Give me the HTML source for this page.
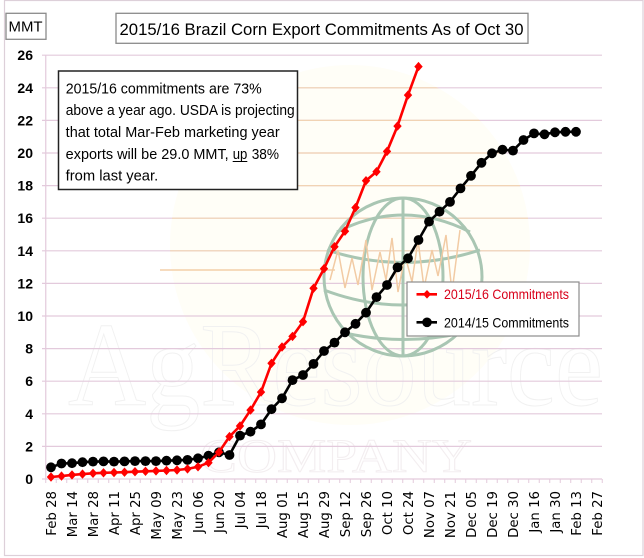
<!DOCTYPE html>
<html><head><meta charset="utf-8"><style>
html,body{margin:0;padding:0;background:#fff;}
svg{display:block;}
</style></head><body>
<svg width="644" height="558" viewBox="0 0 644 558" xmlns="http://www.w3.org/2000/svg">
<defs>
<clipPath id="sun"><circle cx="350" cy="245" r="180"/></clipPath>
<marker id="dia" markerUnits="userSpaceOnUse" markerWidth="12" markerHeight="12" refX="6" refY="6" viewBox="0 0 12 12"><path d="M6,1.3 L10.2,6 L6,10.7 L1.8,6 Z" fill="#ff0000"/></marker>
<marker id="dot" markerUnits="userSpaceOnUse" markerWidth="12" markerHeight="12" refX="6" refY="6" viewBox="0 0 12 12"><circle cx="6" cy="6" r="4.9" fill="#000"/></marker>
</defs>
<rect x="0" y="0" width="644" height="558" fill="#fff"/>
<rect x="4.5" y="0.5" width="638.5" height="555" fill="none" stroke="#ddd0d9" stroke-width="1.2"/>

<!-- watermark sun -->
<circle cx="350" cy="245" r="180" fill="#fffef7"/>
<!-- watermark text -->
<text x="68" y="405" font-family="Liberation Serif, serif" font-size="120" textLength="535" lengthAdjust="spacingAndGlyphs" fill="none" stroke="#f1f1f1" stroke-width="1">AgResource</text>
<text x="200" y="472" font-family="Liberation Serif, serif" font-size="48" textLength="272" lengthAdjust="spacingAndGlyphs" fill="none" stroke="#f3eef0" stroke-width="1">COMPANY</text>

<!-- gridlines -->
<g stroke="#e3cadc" stroke-width="1.2">
<line x1="42" y1="55.2" x2="602" y2="55.2"/>
<line x1="42" y1="87.8" x2="602" y2="87.8"/>
<line x1="42" y1="120.4" x2="602" y2="120.4"/>
<line x1="42" y1="153" x2="602" y2="153"/>
<line x1="42" y1="185.6" x2="602" y2="185.6"/>
<line x1="42" y1="218.2" x2="602" y2="218.2"/>
<line x1="42" y1="250.8" x2="602" y2="250.8"/>
<line x1="42" y1="283.4" x2="602" y2="283.4"/>
<line x1="42" y1="316" x2="602" y2="316"/>
<line x1="42" y1="348.6" x2="602" y2="348.6"/>
<line x1="42" y1="381.2" x2="602" y2="381.2"/>
<line x1="42" y1="413.8" x2="602" y2="413.8"/>
<line x1="42" y1="446.4" x2="602" y2="446.4"/>
<line x1="42" y1="479" x2="602" y2="479"/>
<line x1="45.75" y1="55" x2="45.75" y2="479"/>
</g>
<g stroke="#f1d3b4" stroke-width="1.2" clip-path="url(#sun)">
<line x1="42" y1="87.8" x2="602" y2="87.8"/>
<line x1="42" y1="120.4" x2="602" y2="120.4"/>
<line x1="42" y1="153" x2="602" y2="153"/>
<line x1="42" y1="185.6" x2="602" y2="185.6"/>
<line x1="42" y1="218.2" x2="602" y2="218.2"/>
<line x1="42" y1="250.8" x2="602" y2="250.8"/>
</g>
<!-- x ticks -->
<g stroke="#e3cadc" stroke-width="1">
<path d="M45.75,479v4M56.25,479v4M66.75,479v4M77.25,479v4M87.75,479v4M98.25,479v4M108.75,479v4M119.25,479v4M129.75,479v4M140.25,479v4M150.75,479v4M161.25,479v4M171.75,479v4M182.25,479v4M192.75,479v4M203.25,479v4M213.75,479v4M224.25,479v4M234.75,479v4M245.25,479v4M255.75,479v4M266.25,479v4M276.75,479v4M287.25,479v4M297.75,479v4M308.25,479v4M318.75,479v4M329.25,479v4M339.75,479v4M350.25,479v4M360.75,479v4M371.25,479v4M381.75,479v4M392.25,479v4M402.75,479v4M413.25,479v4M423.75,479v4M434.25,479v4M444.75,479v4M455.25,479v4M465.75,479v4M476.25,479v4M486.75,479v4M497.25,479v4M507.75,479v4M518.25,479v4M528.75,479v4M539.25,479v4M549.75,479v4M560.25,479v4M570.75,479v4M581.25,479v4M591.75,479v4M602.25,479v4"/>
</g>

<!-- orange line + globe watermark -->
<line x1="160" y1="270" x2="335" y2="270" stroke="#f3cfa8" stroke-width="1.5"/>
<g fill="none" stroke="#a9c6b3" stroke-width="3">
<circle cx="403" cy="277" r="79"/>
<line x1="403" y1="198" x2="403" y2="356"/>
<ellipse cx="403" cy="277" rx="40" ry="79"/>
<path d="M337,232 Q403,198 470,232"/>
<path d="M327,250 Q403,275 480,250"/>
<path d="M324,290 Q403,320 482,290"/>
<path d="M345,333 Q403,346 462,333"/>
</g>
<polyline fill="none" stroke="#f2cba4" stroke-width="1.5" points="330,280 338,250 345,288 352,258 358,285 366,240 372,290 380,252 386,280 392,238 398,292 405,255 412,282 418,240 424,288 432,250 438,276 446,235 452,292 460,230"/>

<!-- series -->
<polyline fill="none" stroke="#000" stroke-width="2.6" marker-start="url(#dot)" marker-mid="url(#dot)" marker-end="url(#dot)" points="51,467.3 61.5,463.5 72,463.2 82.5,462.2 93,461.6 103.5,461.4 114,461.6 124.5,461.4 135,461.1 145.5,461.1 156,461.1 166.5,460.7 177,460.3 187.5,459.9 198,458.3 208.5,455.7 219,452.3 229.5,455.0 240,435.6 250.5,431.7 261,424.4 271.5,409.2 282,398.3 292.5,380.1 303,375.0 313.5,363.9 324,351.0 334.5,342.6 345,332.3 355.5,323.8 366,312.7 376.5,297.1 387,285.0 397.5,267.4 408,258.3 418.5,240.0 429,221.6 439.5,211.7 450,201.9 460.5,188.4 471,175.8 481.5,162.8 492,153.3 502.5,149.7 513,150.6 523.5,140.0 534,133.4 544.5,134.3 555,132.3 565.5,131.8 576,131.8"/>
<polyline fill="none" stroke="#ff0000" stroke-width="2.6" marker-start="url(#dia)" marker-mid="url(#dia)" marker-end="url(#dia)" points="51,477.0 61.5,476.1 72,474.9 82.5,474.1 93,473.3 103.5,472.8 114,472.5 124.5,472.2 135,471.7 145.5,471.3 156,470.9 166.5,470.5 177,470.0 187.5,468.9 198,466.8 208.5,462.7 219,452.1 229.5,436.6 240,426.0 250.5,410.1 261,392.1 271.5,363.3 282,347.0 292.5,336.4 303,321.7 313.5,288.3 324,268.7 334.5,246.7 345,231.2 355.5,207.6 366,180.7 376.5,171.7 387,151.4 397.5,126.1 408,95.1 418.5,66.6"/>

<!-- y labels -->
<g font-family="Liberation Sans, sans-serif" font-size="14" font-weight="bold" fill="#000" text-anchor="end">
<text x="33" y="60.2">26</text>
<text x="33" y="92.8">24</text>
<text x="33" y="125.4">22</text>
<text x="33" y="158">20</text>
<text x="33" y="190.6">18</text>
<text x="33" y="223.2">16</text>
<text x="33" y="255.8">14</text>
<text x="33" y="288.4">12</text>
<text x="33" y="321">10</text>
<text x="33" y="353.6">8</text>
<text x="33" y="386.2">6</text>
<text x="33" y="418.8">4</text>
<text x="33" y="451.4">2</text>
<text x="33" y="484">0</text>
</g>

<!-- x labels -->
<g font-family="DejaVu Sans, Verdana, sans-serif" font-size="13.3" fill="#000" text-anchor="end">
<text transform="translate(56,491) rotate(-90)">Feb 28</text>
<text transform="translate(77,491) rotate(-90)">Mar 14</text>
<text transform="translate(98,491) rotate(-90)">Mar 28</text>
<text transform="translate(119,491) rotate(-90)">Apr 11</text>
<text transform="translate(140,491) rotate(-90)">Apr 25</text>
<text transform="translate(161,491) rotate(-90)">May 09</text>
<text transform="translate(182,491) rotate(-90)">May 23</text>
<text transform="translate(203,491) rotate(-90)">Jun 06</text>
<text transform="translate(224,491) rotate(-90)">Jun 20</text>
<text transform="translate(245,491) rotate(-90)">Jul 04</text>
<text transform="translate(266,491) rotate(-90)">Jul 18</text>
<text transform="translate(287,491) rotate(-90)">Aug 01</text>
<text transform="translate(308,491) rotate(-90)">Aug 15</text>
<text transform="translate(329,491) rotate(-90)">Aug 29</text>
<text transform="translate(350,491) rotate(-90)">Sep 12</text>
<text transform="translate(371,491) rotate(-90)">Sep 26</text>
<text transform="translate(392,491) rotate(-90)">Oct 10</text>
<text transform="translate(413,491) rotate(-90)">Oct 24</text>
<text transform="translate(434,491) rotate(-90)">Nov 07</text>
<text transform="translate(455,491) rotate(-90)">Nov 21</text>
<text transform="translate(476,491) rotate(-90)">Dec 05</text>
<text transform="translate(497,491) rotate(-90)">Dec 19</text>
<text transform="translate(518,491) rotate(-90)">Dec 30</text>
<text transform="translate(539,491) rotate(-90)">Jan 16</text>
<text transform="translate(560,491) rotate(-90)">Jan 30</text>
<text transform="translate(581,491) rotate(-90)">Feb 13</text>
<text transform="translate(602,491) rotate(-90)">Feb 27</text>
</g>

<!-- MMT box -->
<rect x="6" y="13.3" width="40" height="26" fill="#fff" stroke="#8a8a8a" stroke-width="1.3"/>
<text x="8.5" y="31.5" font-family="Liberation Sans, sans-serif" font-size="15" textLength="34" lengthAdjust="spacingAndGlyphs" fill="#000">MMT</text>

<!-- title -->
<rect x="116" y="13.3" width="412" height="30" fill="#fff" stroke="#8a8a8a" stroke-width="1.3"/>
<text x="119.5" y="35" font-family="Liberation Sans, sans-serif" font-size="16.8" textLength="404" lengthAdjust="spacingAndGlyphs" fill="#000">2015/16 Brazil Corn Export Commitments As of Oct 30</text>

<!-- annotation box -->
<rect x="58.5" y="71" width="239" height="118.5" fill="#fff" stroke="#222" stroke-width="1.5"/>
<g font-family="Liberation Sans, sans-serif" font-size="14.3" fill="#000">
<text x="65.7" y="93.5" textLength="196" lengthAdjust="spacingAndGlyphs">2015/16 commitments are 73%</text>
<text x="65.7" y="115" textLength="229" lengthAdjust="spacingAndGlyphs">above a year ago. USDA is projecting</text>
<text x="65.7" y="137" textLength="214" lengthAdjust="spacingAndGlyphs">that total Mar-Feb marketing year</text>
<text x="65.7" y="159" textLength="163" lengthAdjust="spacingAndGlyphs">exports will be 29.0 MMT,</text>
<text x="232.7" y="159" textLength="14.6" lengthAdjust="spacingAndGlyphs">up</text>
<text x="251.7" y="159" textLength="27.3" lengthAdjust="spacingAndGlyphs">38%</text>
<text x="65.7" y="180.5" textLength="92.5" lengthAdjust="spacingAndGlyphs">from last year.</text>
</g>
<line x1="232.7" y1="161.5" x2="247.3" y2="161.5" stroke="#000" stroke-width="1"/>

<!-- legend -->
<rect x="407" y="282" width="172" height="54" fill="#fff" stroke="#8c8c8c" stroke-width="1.2"/>
<line x1="416.5" y1="294.3" x2="437" y2="294.3" stroke="#ff0000" stroke-width="2.6"/>
<path d="M427,290 L431,294.3 L427,298.6 L423,294.3 Z" fill="#ff0000"/>
<line x1="416.5" y1="322.3" x2="437" y2="322.3" stroke="#000" stroke-width="2.6"/>
<circle cx="427" cy="322.3" r="4.8" fill="#000"/>
<g font-family="Liberation Sans, sans-serif" font-size="14">
<text x="444" y="299" textLength="125" lengthAdjust="spacingAndGlyphs" fill="#d8001a">2015/16 Commitments</text>
<text x="444" y="327.3" textLength="125" lengthAdjust="spacingAndGlyphs" fill="#000">2014/15 Commitments</text>
</g>
</svg>
</body></html>
